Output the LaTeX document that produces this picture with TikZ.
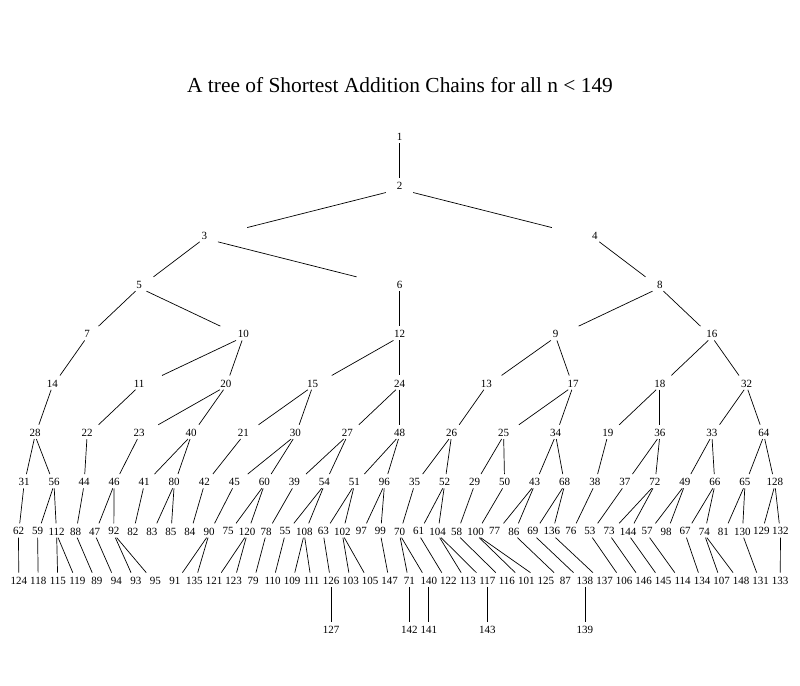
\documentclass[tikz,border=0pt]{standalone}
\usepackage{fontspec}
\setmainfont{Liberation Serif}
\usetikzlibrary{calc}

\newcommand\treerow[3]{%
  \foreach \v [count=\i] in {#3}
    \node[num] (n\v) at ({9+(\i-0.5)/#2*781},#1) {\v};
}

\begin{document}
\begin{tikzpicture}[x=1pt,y=1pt,
  num/.style={inner sep=0pt,font=\fontsize{11}{13}\selectfont},
  edge/.style={line width=0.7pt}]
  \useasboundingbox (0,0) rectangle (800,685);
  \node[anchor=base,font=\fontsize{21.4}{25}\selectfont] (title) at (400,592)
    {A tree of Shortest Addition Chains for all n < 149};
  \treerow{548}{1}{1}
  \treerow{498.7}{1}{2}
  \treerow{449.4}{2}{3,4}
  \treerow{400.1}{3}{5,6,8}
  \treerow{350.8}{5}{7,10,12,9,16}
  \treerow{301.5}{9}{14,11,20,15,24,13,17,18,32}
  \treerow{252.2}{15}{28,22,23,40,21,30,27,48,26,25,34,19,36,33,64}
  \treerow{202.9}{26}{31,56,44,46,41,80,42,45,60,39,54,51,96,35,52,29,50,43,68,38,37,72,49,66,65,128}
  \treerow{153.6}{41}{62,59,112,88,47,92,82,83,85,84,90,75,120,78,55,108,63,102,97,99,70,61,104,58,100,77,86,69,136,76,53,73,144,57,98,67,74,81,130,129,132}
  \treerow{104.3}{40}{124,118,115,119,89,94,93,95,91,135,121,123,79,110,109,111,126,103,105,147,71,140,122,113,117,116,101,125,87,138,137,106,146,145,114,134,107,148,131,133}
  \foreach \p/\c in {126/127,71/142,140/141,117/143,138/139}
    \path (n\p) ++(0,-49.3) node[num] (n\c) {\c};
  \foreach \p/\c in {1/2,2/3,2/4,3/5,3/6,4/8,5/7,5/10,6/12,8/9,8/16,
      7/14,10/11,10/20,12/15,12/24,9/13,9/17,16/18,16/32,
      14/28,11/22,20/23,20/40,15/21,15/30,24/27,24/48,13/26,17/25,17/34,18/19,18/36,32/33,32/64,
      28/31,28/56,22/44,23/46,40/41,40/80,21/42,30/45,30/60,27/39,27/54,48/51,48/96,26/35,26/52,
      25/29,25/50,34/43,34/68,19/38,36/37,36/72,33/49,33/66,64/65,64/128,
      31/62,56/59,56/112,44/88,46/47,46/92,41/82,80/83,80/85,42/84,45/90,60/75,60/120,39/78,
      54/55,54/108,51/63,51/102,96/97,96/99,35/70,52/61,52/104,29/58,50/100,43/77,43/86,68/69,
      68/136,38/76,37/53,72/73,72/144,49/57,49/98,66/67,66/74,65/81,65/130,128/129,128/132,
      62/124,59/118,112/115,112/119,88/89,47/94,92/93,92/95,90/91,90/135,120/121,120/123,78/79,
      55/110,108/109,108/111,63/126,102/103,102/105,99/147,70/71,70/140,61/122,104/113,104/117,
      58/116,100/101,100/125,86/87,69/138,136/137,53/106,73/146,144/145,57/114,67/134,74/107,
      74/148,130/131,132/133,
      126/127,71/142,140/141,117/143,138/139}
    \draw[edge] ($(n\p)!0.07!(n\c)+(0,-2.8)$) -- ($(n\p)!0.78!(n\c)+(0,-2.8)$);
\end{tikzpicture}
\end{document}
